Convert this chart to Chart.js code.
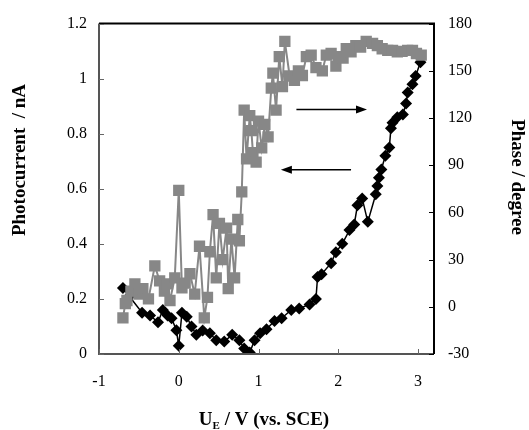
<!DOCTYPE html>
<html>
<head>
<meta charset="utf-8">
<script src="https://cdn.jsdelivr.net/npm/chart.js@4/dist/chart.umd.min.js"></script>
<style>
  html, body { margin: 0; padding: 0; background: #fff; }
</style>
</head>
<body>
<canvas id="chart" width="529" height="430"></canvas>
<script>
// Photocurrent (black diamonds, left axis)
const potentialCurrent = [-0.7, -0.62, -0.46, -0.36, -0.26, -0.2, -0.14, -0.09, -0.03, 0.0, 0.04, 0.1, 0.16, 0.22, 0.3, 0.39, 0.47, 0.57, 0.67, 0.76, 0.82, 0.89, 0.95, 1.02, 1.1, 1.2, 1.29, 1.41, 1.51, 1.64, 1.72, 1.74, 1.79, 1.91, 1.97, 2.05, 2.14, 2.2, 2.24, 2.3, 2.37, 2.47, 2.49, 2.51, 2.54, 2.59, 2.64, 2.66, 2.68, 2.74, 2.81, 2.85, 2.87, 2.93, 2.97, 3.03];
const photocurrent = [0.24, 0.21, 0.15, 0.14, 0.115, 0.16, 0.14, 0.13, 0.086, 0.03, 0.15, 0.135, 0.1, 0.07, 0.085, 0.075, 0.05, 0.045, 0.07, 0.05, 0.02, 0.005, 0.05, 0.075, 0.09, 0.12, 0.13, 0.16, 0.165, 0.18, 0.2, 0.28, 0.29, 0.33, 0.37, 0.4, 0.45, 0.47, 0.54, 0.565, 0.48, 0.58, 0.61, 0.64, 0.67, 0.72, 0.75, 0.82, 0.84, 0.86, 0.87, 0.91, 0.95, 0.98, 1.01, 1.06];

// Phase (grey squares, right axis)
const potentialPhase = [-0.7, -0.67, -0.65, -0.6, -0.55, -0.5, -0.45, -0.38, -0.3, -0.24, -0.18, -0.14, -0.11, -0.05, 0.0, 0.04, 0.08, 0.14, 0.2, 0.26, 0.32, 0.36, 0.39, 0.43, 0.47, 0.51, 0.55, 0.6, 0.62, 0.66, 0.7, 0.74, 0.76, 0.79, 0.82, 0.85, 0.89, 0.91, 0.93, 0.97, 1.0, 1.04, 1.08, 1.12, 1.16, 1.18, 1.22, 1.26, 1.3, 1.33, 1.39, 1.45, 1.5, 1.55, 1.6, 1.66, 1.72, 1.8, 1.85, 1.91, 1.97, 2.01, 2.06, 2.1, 2.16, 2.22, 2.28, 2.35, 2.43, 2.49, 2.55, 2.62, 2.68, 2.74, 2.8, 2.87, 2.93, 2.98, 3.04];
const phase = [-7, 2, 4, 10, 14.6, 8, 11.5, 5, 26, 16.5, 10, 14.6, 4, 18.4, 74, 12, 15, 21, 8, 38.5, -7, 6, 35, 58.6, 18.4, 53, 30, 50, 11.5, 43, 18.4, 55.5, 42, 73, 125, 94, 121.5, 112, 98, 92, 118, 101, 116, 108, 139, 148.5, 125, 159, 140, 168.7, 146.7, 144, 150, 147, 159, 160, 152, 150, 160, 161, 153, 159, 158, 164, 162, 166, 165, 168.7, 167.4, 166, 164, 163, 163, 162, 162.4, 163, 163, 161, 160];

// tick values
const potentialTicks = [-1, 0, 1, 2, 3];

// Arrows (in data units of the x axis and the left axis)
const arrowNotes = [
  { from: 1.475, to: 2.36, level: 0.888 },
  { from: 2.16, to: 1.28, level: 0.669 }
];

const SERIF = "'Liberation Serif', 'DejaVu Serif', serif";

function pairs(xs, ys) {
  return xs.map((x, i) => ({ x: x, y: ys[i] }));
}

// ticks pointing into the plot, frame, arrows and axis titles
const decorations = {
  id: 'decorations',
  afterDatasetsDraw(chart) {
    const ctx = chart.ctx;
    const a = chart.chartArea;
    const sx = chart.scales.x, sy = chart.scales.y, sy1 = chart.scales.y1;
    ctx.save();

    // arrows
    ctx.strokeStyle = '#000';
    ctx.fillStyle = '#000';
    ctx.lineWidth = 1.5;
    arrowNotes.forEach(n => {
      const x0 = sx.getPixelForValue(n.from), x1 = sx.getPixelForValue(n.to);
      const y = sy.getPixelForValue(n.level);
      const dir = x1 > x0 ? 1 : -1;
      ctx.beginPath();
      ctx.moveTo(x0, y);
      ctx.lineTo(x1 - dir * 8, y);
      ctx.stroke();
      ctx.beginPath();
      ctx.moveTo(x1, y);
      ctx.lineTo(x1 - dir * 11, y - 4);
      ctx.lineTo(x1 - dir * 11, y + 4);
      ctx.closePath();
      ctx.fill();
    });

    // frame
    ctx.lineWidth = 2;
    ctx.strokeStyle = '#555';
    ctx.beginPath();
    ctx.moveTo(a.left, a.top);
    ctx.lineTo(a.left, a.bottom);
    ctx.lineTo(a.right, a.bottom);
    ctx.stroke();
    ctx.strokeStyle = '#000';
    ctx.beginPath();
    ctx.moveTo(a.left, a.top);
    ctx.lineTo(a.right, a.top);
    ctx.lineTo(a.right, a.bottom);
    ctx.stroke();

    // inward ticks
    ctx.lineWidth = 1;
    ctx.strokeStyle = '#666';
    ctx.beginPath();
    sx.ticks.forEach(t => {
      const p = Math.round(sx.getPixelForValue(t.value)) + 0.5;
      ctx.moveTo(p, a.bottom); ctx.lineTo(p, a.bottom - 5);
    });
    sy.ticks.forEach(t => {
      const p = Math.round(sy.getPixelForValue(t.value)) + 0.5;
      ctx.moveTo(a.left, p); ctx.lineTo(a.left + 5, p);
    });
    ctx.stroke();
    ctx.strokeStyle = '#000';
    ctx.beginPath();
    sy1.ticks.forEach(t => {
      const p = Math.round(sy1.getPixelForValue(t.value)) + 0.5;
      ctx.moveTo(a.right, p); ctx.lineTo(a.right - 5, p);
    });
    ctx.stroke();

    // axis titles
    ctx.fillStyle = '#000';
    ctx.textAlign = 'center';
    ctx.textBaseline = 'middle';
    ctx.font = 'bold 19px ' + SERIF;

    ctx.save();
    ctx.translate(20, 160);
    ctx.rotate(-Math.PI / 2);
    ctx.fillText('Photocurrent  / nA', 0, 0);
    ctx.restore();

    ctx.save();
    ctx.translate(517, 177);
    ctx.rotate(Math.PI / 2);
    ctx.fillText('Phase / degree', 0, 0);
    ctx.restore();

    // x title with subscript
    const big = 'bold 19px ' + SERIF, small = 'bold 11px ' + SERIF;
    const partA = 'U', partSub = 'E', partB = ' / V (vs. SCE)';
    ctx.font = big;
    const wA = ctx.measureText(partA).width, wB = ctx.measureText(partB).width;
    ctx.font = small;
    const wS = ctx.measureText(partSub).width;
    let x = 264 - (wA + wS + wB) / 2;
    const base = 425;
    ctx.textAlign = 'left';
    ctx.textBaseline = 'alphabetic';
    ctx.font = big;
    ctx.fillText(partA, x, base);
    x += wA;
    ctx.font = small;
    ctx.fillText(partSub, x, base + 4);
    x += wS;
    ctx.font = big;
    ctx.fillText(partB, x, base);

    ctx.restore();
  }
};

const tickFont = { family: SERIF, size: 16 };
const plainNumber = v => String(Number(Number(v).toFixed(2)));

const ctx = document.getElementById('chart').getContext('2d');
new Chart(ctx, {
  type: 'line',
  data: {
    datasets: [
      {
        label: 'Phase',
        data: pairs(potentialPhase, phase),
        yAxisID: 'y1',
        borderColor: '#878787',
        backgroundColor: '#878787',
        borderWidth: 2,
        pointStyle: 'rect',
        pointRadius: 8,
        pointBorderWidth: 0,
        tension: 0
      },
      {
        label: 'Photocurrent',
        data: pairs(potentialCurrent, photocurrent),
        yAxisID: 'y',
        borderColor: '#000',
        backgroundColor: '#000',
        borderWidth: 1.5,
        pointStyle: 'rectRot',
        pointRadius: 6,
        pointBorderWidth: 0,
        tension: 0
      }
    ]
  },
  options: {
    responsive: false,
    animation: false,
    devicePixelRatio: 1,
    layout: { padding: { top: 20, left: 0, right: 0, bottom: 0 } },
    plugins: {
      legend: { display: false },
      tooltip: { enabled: false }
    },
    scales: {
      x: {
        type: 'linear',
        min: -1,
        max: 3.2,
        afterBuildTicks(s) {
          s.ticks = potentialTicks.map(v => ({ value: v }));
        },
        afterFit(s) { s.height = 76; },
        grid: { display: false, drawTicks: false },
        border: { display: false },
        ticks: { autoSkip: false, maxRotation: 0, padding: 18, color: '#000', font: tickFont, callback: plainNumber }
      },
      y: {
        position: 'left',
        min: 0,
        max: 1.2,
        afterFit(s) { s.width = 99; },
        grid: { display: false, drawTicks: false },
        border: { display: false },
        ticks: { stepSize: 0.2, padding: 12, color: '#000', font: tickFont, callback: plainNumber }
      },
      y1: {
        position: 'right',
        min: -30,
        max: 180,
        afterFit(s) { s.width = 95; },
        grid: { display: false, drawTicks: false },
        border: { display: false },
        ticks: { stepSize: 30, padding: 14, color: '#000', font: tickFont, callback: plainNumber }
      }
    }
  },
  plugins: [decorations]
});
</script>
</body>
</html>
